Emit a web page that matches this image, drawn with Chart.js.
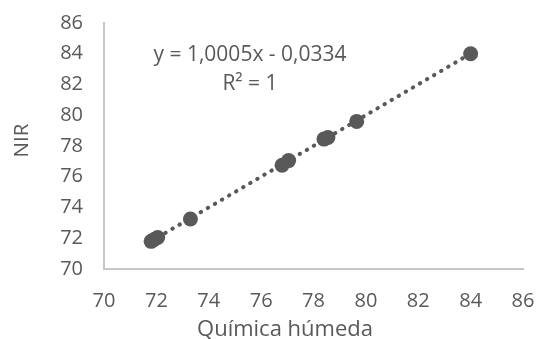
<!DOCTYPE html>
<html>
<head>
<meta charset="utf-8">
<script src="https://cdn.jsdelivr.net/npm/chart.js@4/dist/chart.umd.min.js"></script>
<style>
  html, body { margin: 0; padding: 0; background: #ffffff; }
  #wrap { width: 538px; height: 339px; }
</style>
</head>
<body>
<div id="wrap"><canvas id="c" width="538" height="339"></canvas></div>
<script>
// ---- data ----
const quimicaHumeda = [71.8, 71.9, 72.05, 73.3, 76.8, 77.05, 78.4, 78.55, 79.65, 84.0];
const nirValues     = [71.8, 71.9, 72.05, 73.25, 76.75, 77.05, 78.45, 78.55, 79.6, 84.0];
const tickValues    = [70, 72, 74, 76, 78, 80, 82, 84, 86];
const trendSlope = 1.0005;
const trendIntercept = -0.0334;
const equationLines = ["y = 1,0005x - 0,0334", "R\u00b2 = 1"];
const xTitle = "Química húmeda";
const yTitle = "NIR";

const points = quimicaHumeda.map((x, i) => ({ x: x, y: nirValues[i] }));
const xMin = Math.min(...quimicaHumeda), xMax = Math.max(...quimicaHumeda);
const trend = [xMin, xMax].map(x => ({ x: x, y: trendSlope * x + trendIntercept }));

const textColor = '#595959';
const markColor = '#595959';
const axisColor = '#c6c6c6';
const FONT = "'Open Sans', sans-serif";

const textPlugin = {
  id: 'texts',
  afterDraw(chart) {
    const { ctx, chartArea } = chart;
    ctx.save();
    ctx.fillStyle = textColor;
    // trendline equation
    ctx.font = "21px " + FONT;
    ctx.textAlign = 'center';
    ctx.textBaseline = 'alphabetic';
    const cx = chartArea.left + 146;
    ctx.fillText(equationLines[0], cx, chartArea.top + 37.5);
    ctx.fillText(equationLines[1], cx, chartArea.top + 67);
    // x axis title
    ctx.font = "22px " + FONT;
    ctx.fillText(xTitle, chartArea.left + 181, chartArea.bottom + 67);
    // y axis title
    ctx.font = "20.5px " + FONT;
    ctx.translate(28, chartArea.top + 117.5);
    ctx.rotate(-Math.PI / 2);
    ctx.fillText(yTitle, 0, 0);
    ctx.restore();
  }
};

const zeroPadding = s => { s.paddingLeft = 0; s.paddingRight = 0; s.paddingTop = 0; s.paddingBottom = 0; };

new Chart(document.getElementById('c'), {
  type: 'scatter',
  data: {
    datasets: [
      {
        type: 'line',
        data: trend,
        borderColor: markColor,
        borderWidth: 4,
        borderDash: [0.5, 7.7],
        borderCapStyle: 'round',
        pointRadius: 0,
        fill: false,
        order: 2
      },
      {
        data: points,
        backgroundColor: markColor,
        borderWidth: 0,
        pointRadius: 7.5,
        pointHoverRadius: 7.5,
        order: 1
      }
    ]
  },
  options: {
    responsive: false,
    animation: false,
    devicePixelRatio: 1,
    layout: { padding: { top: 23, right: 15, left: 0, bottom: 0 } },
    plugins: { legend: { display: false }, tooltip: { enabled: false } },
    scales: {
      x: {
        type: 'linear',
        min: 70, max: 86,
        afterBuildTicks: s => { s.ticks = tickValues.map(v => ({ value: v })); },
        afterFit: s => { s.height = 70; zeroPadding(s); },
        grid: { display: false, drawTicks: false },
        border: { display: true, color: axisColor, width: 2 },
        ticks: { color: textColor, font: { size: 20, family: FONT }, padding: 20, maxRotation: 0 },
        title: { display: false, text: xTitle }
      },
      y: {
        type: 'linear',
        min: 70, max: 86,
        afterBuildTicks: s => { s.ticks = tickValues.map(v => ({ value: v })); },
        afterFit: s => { s.width = 104; zeroPadding(s); },
        grid: { display: false, drawTicks: false },
        border: { display: true, color: axisColor, width: 2 },
        ticks: { color: textColor, font: { size: 20, family: FONT }, padding: 21 },
        title: { display: false, text: yTitle }
      }
    }
  },
  plugins: [textPlugin]
});
</script>
</body>
</html>
